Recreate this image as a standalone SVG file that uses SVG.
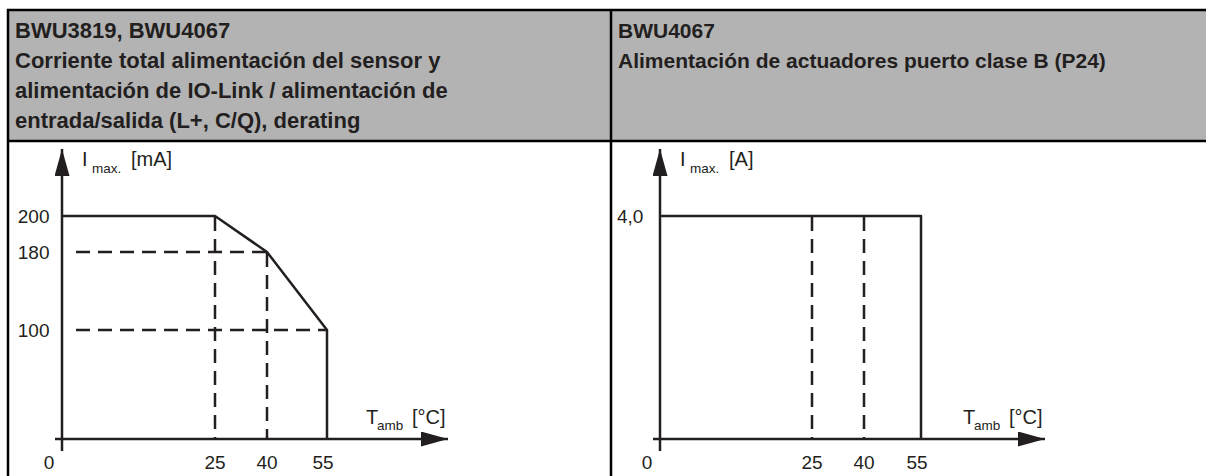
<svg xmlns="http://www.w3.org/2000/svg" width="1206" height="476" viewBox="0 0 1206 476">
<defs>
<style>
.hd{font-family:"Liberation Sans",Arial,sans-serif;font-weight:bold;font-size:22px;fill:#231f20}
.hr{font-size:21px}
.t{font-family:"Liberation Sans",Arial,sans-serif;font-size:19px;fill:#231f20}
.l{font-family:"Liberation Sans",Arial,sans-serif;font-size:20px;fill:#231f20}
.s{font-family:"Liberation Sans",Arial,sans-serif;font-size:13.5px;fill:#231f20}
.ax{stroke:#231f20;stroke-width:2.5;fill:none}
.cv{stroke:#231f20;stroke-width:2.5;fill:none;stroke-linejoin:round}
.ds{stroke:#231f20;stroke-width:2.5;fill:none;stroke-dasharray:14 8}
.bd{stroke:#000;stroke-width:2.5;fill:none}
</style>
<marker id="arr" markerUnits="userSpaceOnUse" markerWidth="28" markerHeight="16" refX="27" refY="7.5" orient="auto">
<path d="M0,0 L27,7.5 L0,15 z" fill="#231f20"/>
</marker>
</defs>
<rect x="0" y="0" width="1206" height="476" fill="#fff"/>
<g id="table">
<rect x="8" y="10" width="1200" height="131" fill="#b3b3b3"/>
<path class="bd" d="M1206,10 H8 V476 M8,141 H1206 M611,10 V476"/>
</g>
<g id="header-left">
<text class="hd" x="15" y="38">BWU3819, BWU4067</text>
<text class="hd" x="15" y="68">Corriente total alimentación del sensor y</text>
<text class="hd" x="15" y="98">alimentación de IO-Link / alimentación de</text>
<text class="hd" x="15" y="128">entrada/salida (L+, C/Q), derating</text>
</g>
<g id="header-right">
<text class="hd hr" x="618" y="38">BWU4067</text>
<text class="hd hr" x="618" y="68">Alimentación de actuadores puerto clase B (P24)</text>
</g>
<g id="chart-left">
<g id="connectors-left">
<line class="ax" x1="62" y1="451" x2="62" y2="149" marker-end="url(#arr)"/>
<line class="ax" x1="55" y1="439" x2="448" y2="439" marker-end="url(#arr)"/>
<path class="ds" d="M76,252 H268 M76,330 H327 M215,217 V439 M267,253 V439"/>
<path class="cv" d="M62,216 H215 L267,252 L327,330 V439"/>
</g>
<text class="l" x="82" y="166">I</text>
<text class="s" x="92" y="173">max.</text>
<text class="l" x="131" y="166">[mA]</text>
<text class="t" x="49.5" y="223" text-anchor="end">200</text>
<text class="t" x="49.5" y="259" text-anchor="end">180</text>
<text class="t" x="49.5" y="337" text-anchor="end">100</text>
<text class="t" x="49" y="469" text-anchor="middle">0</text>
<text class="t" x="215" y="469" text-anchor="middle">25</text>
<text class="t" x="267" y="469" text-anchor="middle">40</text>
<text class="t" x="323" y="469" text-anchor="middle">55</text>
<text class="l" x="366" y="424">T</text>
<text class="s" x="377" y="430">amb</text>
<text class="l" x="412" y="424">[°C]</text>
</g>
<g id="chart-right">
<g id="connectors-right">
<line class="ax" x1="660" y1="451" x2="660" y2="149" marker-end="url(#arr)"/>
<line class="ax" x1="653" y1="439" x2="1045" y2="439" marker-end="url(#arr)"/>
<path class="ds" d="M812,217 V439 M864,217 V439"/>
<path class="cv" d="M660,216 H921 V439"/>
</g>
<text class="l" x="680" y="166">I</text>
<text class="s" x="690" y="173">max.</text>
<text class="l" x="729" y="166">[A]</text>
<text class="t" x="617" y="223">4,0</text>
<text class="t" x="647" y="469" text-anchor="middle">0</text>
<text class="t" x="812" y="469" text-anchor="middle">25</text>
<text class="t" x="864" y="469" text-anchor="middle">40</text>
<text class="t" x="917" y="469" text-anchor="middle">55</text>
<text class="l" x="963" y="424">T</text>
<text class="s" x="974" y="430">amb</text>
<text class="l" x="1009" y="424">[°C]</text>
</g>
</svg>
